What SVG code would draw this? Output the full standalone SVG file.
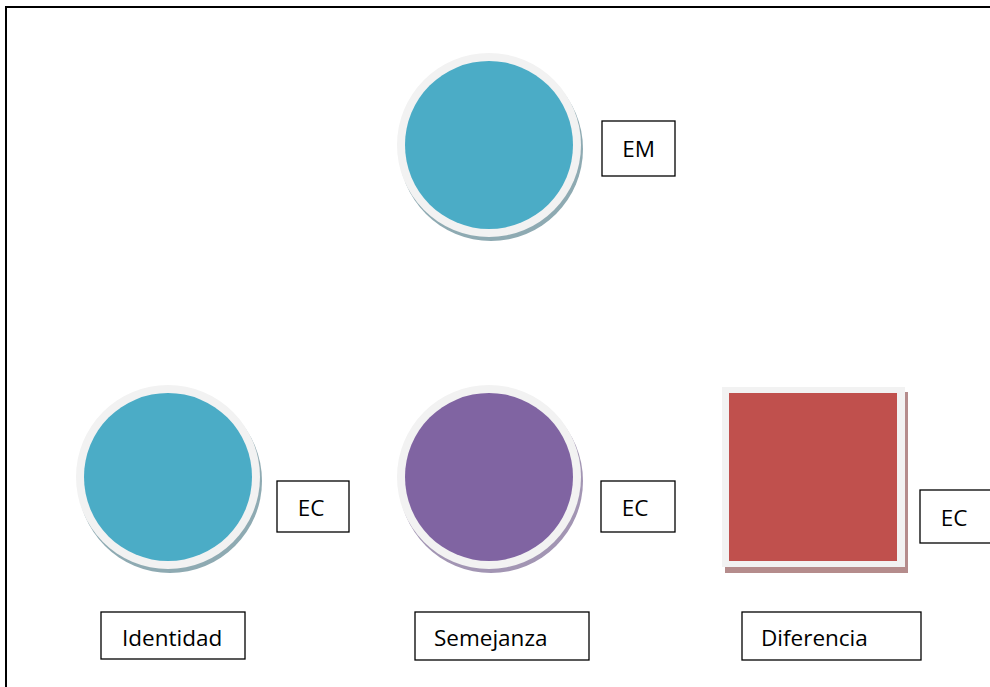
<svg xmlns="http://www.w3.org/2000/svg" width="990" height="687" viewBox="0 0 990 687">
<style>
.ring{fill:#f2f2f2}
.box{fill:#fff;stroke:#000;stroke-width:1.3}
.t{font-family:"Open Sans","Liberation Sans",Arial,sans-serif;font-size:22.5px;fill:#000}
</style>
<rect width="990" height="687" fill="#fff"/>
<rect x="6" y="7" width="1000" height="700" fill="none" stroke="#000" stroke-width="2"/>
<g id="em-circle">
<circle cx="491" cy="149" r="92" fill="#8eaab2"/>
<circle cx="489" cy="145" r="92" class="ring"/>
<circle cx="489" cy="145" r="84" fill="#4bacc6"/>
</g>
<g id="em-label"><rect x="602" y="121" width="73" height="55" class="box"/><text x="638.5" y="157" text-anchor="middle" class="t">EM</text></g>
<g id="identidad-circle">
<circle cx="170" cy="481" r="92" fill="#8eaab2"/>
<circle cx="168" cy="477" r="92" class="ring"/>
<circle cx="168" cy="477" r="84" fill="#4bacc6"/>
</g>
<g id="ec1"><rect x="277" y="481" width="72" height="51" class="box"/><text x="311" y="516" text-anchor="middle" class="t">EC</text></g>
<g id="semejanza-circle">
<circle cx="491" cy="481" r="92" fill="#a295b3"/>
<circle cx="489" cy="477" r="92" class="ring"/>
<circle cx="489" cy="477" r="84" fill="#8064a2"/>
</g>
<g id="ec2"><rect x="601" y="481" width="74" height="51" class="box"/><text x="635" y="516" text-anchor="middle" class="t">EC</text></g>
<g id="diferencia-square">
<rect x="725" y="392" width="183" height="181" fill="#b58c8c"/>
<rect x="722" y="387" width="183" height="180" class="ring"/>
<rect x="729" y="393" width="168" height="168" fill="#c0504d"/>
</g>
<g id="ec3"><rect x="920" y="490" width="80" height="53" class="box"/><text x="954" y="526" text-anchor="middle" class="t">EC</text></g>
<g id="identidad"><rect x="101" y="612" width="144" height="47" class="box"/><text x="122" y="646" class="t">Identidad</text></g>
<g id="semejanza"><rect x="415" y="612" width="174" height="48" class="box"/><text x="434" y="646" class="t">Semejanza</text></g>
<g id="diferencia"><rect x="742" y="612" width="179" height="48" class="box"/><text x="761" y="646" class="t">Diferencia</text></g>
<g id="connectors"></g>
</svg>
